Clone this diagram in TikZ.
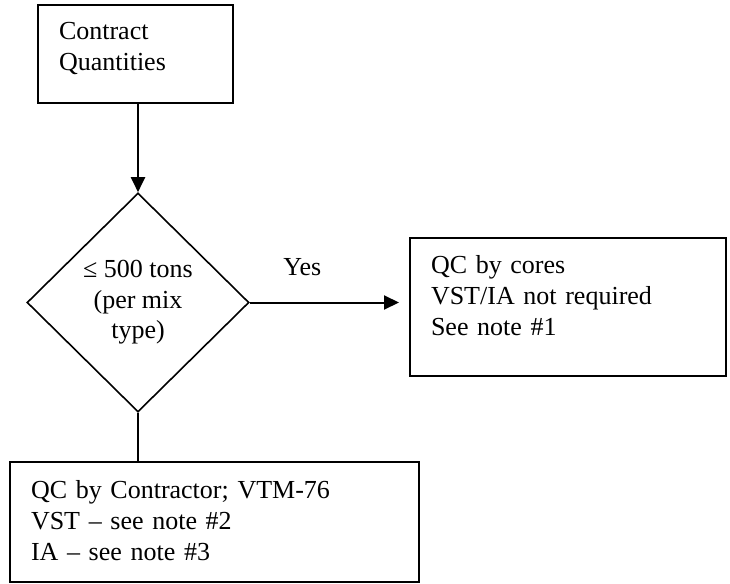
\documentclass[tikz,border=0pt]{standalone}
\usepackage{fontspec}
\setmainfont{Liberation Serif}
\usepackage{tikz}
\usetikzlibrary{arrows.meta,shapes.geometric}
\frenchspacing

\begin{document}
\begin{tikzpicture}[
  x=1pt, y=-1pt,
  box/.style={draw=black, line width=2pt, rectangle, anchor=north west,
              inner xsep=21pt, inner ysep=0pt,
              align=left, font=\fontsize{26}{31}\selectfont},
  decide/.style={draw=black, line width=1.6pt, diamond, aspect=1, inner sep=0pt,
              minimum width=222pt, minimum height=219pt, align=center,
              font=\fontsize{26}{30.5}\selectfont},
  arr/.style={-{Triangle[length=15pt,width=14pt]}, line width=2pt},
  lbl/.style={font=\fontsize{26}{31}\selectfont}
]
  \useasboundingbox (0,0) rectangle (730,583);
  % boxes: top left corner, text height/depth set the top and bottom edges
  \node[box, text width=153pt, text height=35pt, text depth=63pt] (qty) at (37,4)
    {Contract\\Quantities};
  \node[decide] (tons) at (138,302.5) {≤ 500 tons\\(per mix\\type)};
  \node[box, text width=274pt, text height=35pt, text depth=103pt] (cores) at (409,237)
    {QC by cores\\VST/IA not required\\See note \#1};
  \node[box, text width=367pt, text height=36pt, text depth=84pt] (contr) at (9,461)
    {QC by Contractor; VTM-76\\VST -- see note \#2\\IA -- see note \#3};
  \draw[arr] (tons.north |- qty.south) -- (tons.north);
  \draw[arr, shorten >=10pt] (tons.east) -- node[lbl, pos=0.33, above=22pt] {Yes} (tons.east -| cores.west);
  \draw[line width=2pt] (tons.south) -- (tons.south |- contr.north);
\end{tikzpicture}
\end{document}
